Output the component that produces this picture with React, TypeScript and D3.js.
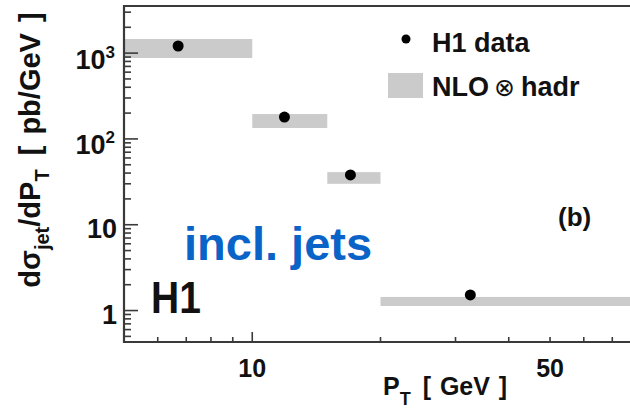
import React, { useEffect, useRef } from "react";
import * as d3 from "d3";

// jet pT bins [GeV]
const ptLow = [5, 10, 15, 20];
const ptHigh = [10, 15, 20, 80];
const ptMean = [6.7, 11.9, 17.0, 32.5];
// measured cross section [pb/GeV]
const h1Data = [1210, 180, 38, 1.52];
// NLO x hadr band
const nloLow = [877, 134, 30, 1.13];
const nloHigh = [1460, 195, 41, 1.44];

const yLabels = [
  { v: 1, base: "1", sup: "" },
  { v: 10, base: "10", sup: "" },
  { v: 100, base: "10", sup: "2" },
  { v: 1000, base: "10", sup: "3" },
];
const xLabels = [10, 50];

const W = 630;
const H = 414;
const FONT = "'Liberation Sans', Arial, Helvetica, sans-serif";

const App = () => {
  const ref = useRef(null);

  useEffect(() => {
    if (!ref.current) return;
    const svg = d3.select(ref.current);
    svg.selectAll("*").remove();

    const left = 124, top = 6, bottom = 342;
    const x = d3.scaleLog().domain([5, 80]).range([left, 637]);
    const y = d3.scaleLog().domain([0.43, 3540]).range([bottom, top]);

    const g = svg.append("g");

    // === NLO bands ===
    g.selectAll("rect.band")
      .data(ptLow.map((lo, i) => ({ lo, hi: ptHigh[i], a: nloLow[i], b: nloHigh[i] })))
      .join("rect")
      .attr("class", "band")
      .attr("x", (d) => x(d.lo))
      .attr("width", (d) => x(d.hi) - x(d.lo))
      .attr("y", (d) => y(d.b))
      .attr("height", (d) => y(d.a) - y(d.b))
      .style("fill", "#cbcbcb");

    // === H1 points ===
    g.selectAll("circle.pt")
      .data(ptMean.map((p, i) => ({ p, v: h1Data[i] })))
      .join("circle")
      .attr("class", "pt")
      .attr("cx", (d) => x(d.p))
      .attr("cy", (d) => y(d.v))
      .attr("r", 5.5)
      .style("fill", "#000");

    // === frame ===
    const frame = "#3a3a3a";
    g.append("path")
      .attr("d", `M${W + 5},${top} H${left} V${bottom} H${W + 5}`)
      .attr("fill", "none")
      .attr("stroke", frame)
      .attr("stroke-width", 2.2);

    // y ticks
    const yt = y.ticks();
    g.selectAll("line.yt")
      .data(yt)
      .join("line")
      .attr("class", "yt")
      .attr("x1", left)
      .attr("x2", (d) => left + (Math.abs(Math.log10(d) % 1) < 1e-9 ? 14 : 7))
      .attr("y1", (d) => y(d))
      .attr("y2", (d) => y(d))
      .attr("stroke", frame)
      .attr("stroke-width", 1.6);

    // x ticks
    const xt = x.ticks().filter((d) => d >= 5 && d <= 80);
    g.selectAll("line.xt")
      .data(xt)
      .join("line")
      .attr("class", "xt")
      .attr("x1", (d) => x(d))
      .attr("x2", (d) => x(d))
      .attr("y1", bottom)
      .attr("y2", (d) => bottom - (d === 10 ? 10 : 5))
      .attr("stroke", frame)
      .attr("stroke-width", 1.6);

    // y labels
    const yl = g.selectAll("text.yl")
      .data(yLabels)
      .join("text")
      .attr("class", "yl")
      .attr("x", (d) => (d.sup ? 115 : 117))
      .attr("y", (d) => y(d.v) + (d.sup ? 15.5 : 13))
      .attr("text-anchor", "end")
      .style("font-family", FONT)
      .style("font-weight", "bold")
      .style("font-size", "27px")
      .style("fill", "#111");
    yl.append("tspan").text((d) => d.base);
    yl.filter((d) => !!d.sup)
      .append("tspan")
      .attr("dy", -11)
      .style("font-size", "17px")
      .text((d) => d.sup);

    // x labels
    g.selectAll("text.xl")
      .data(xLabels)
      .join("text")
      .attr("class", "xl")
      .attr("x", (d) => x(d))
      .attr("y", 377)
      .attr("text-anchor", "middle")
      .style("font-family", FONT)
      .style("font-weight", "bold")
      .style("font-size", "25px")
      .style("fill", "#111")
      .text((d) => d);

    // x title
    const xtTitle = g.append("text")
      .attr("x", 383)
      .attr("y", 395)
      .style("font-family", FONT)
      .style("font-weight", "bold")
      .style("font-size", "25px")
      .style("word-spacing", "2px")
      .style("fill", "#111");
    xtTitle.append("tspan").text("P");
    xtTitle.append("tspan").attr("dy", 10).style("font-size", "18px").text("T");
    xtTitle.append("tspan").attr("dy", -10).attr("dx", 3).text(" [ GeV ]");

    // y title
    const ytTitle = g.append("text")
      .attr("transform", "translate(40,150) rotate(-90)")
      .attr("text-anchor", "middle")
      .style("font-family", FONT)
      .style("font-weight", "bold")
      .style("font-size", "29px")
      .style("word-spacing", "3px")
      .style("fill", "#111");
    ytTitle.append("tspan").text("dσ");
    ytTitle.append("tspan").attr("dy", 9).style("font-size", "20px").text("jet");
    ytTitle.append("tspan").attr("dy", -9).text("/dP");
    ytTitle.append("tspan").attr("dy", 9).style("font-size", "20px").text("T");
    ytTitle.append("tspan").attr("dy", -9).attr("dx", 3).text(" [ pb/GeV ]");

    // legend
    g.append("circle").attr("cx", 406).attr("cy", 39).attr("r", 4.5).style("fill", "#000");
    g.append("rect")
      .attr("x", 388).attr("y", 73).attr("width", 35).attr("height", 25)
      .style("fill", "#cbcbcb");
    g.append("text")
      .attr("x", 432).attr("y", 52)
      .style("font-family", FONT).style("font-weight", "bold").style("font-size", "27px")
      .style("fill", "#111")
      .text("H1 data");
    const nl = g.append("text")
      .attr("x", 432).attr("y", 96)
      .style("font-family", FONT).style("font-weight", "bold").style("font-size", "27px")
      .style("fill", "#111");
    nl.append("tspan").text("NLO");
    nl.append("tspan").attr("dx", 5).style("font-weight", "normal").style("font-family", "'DejaVu Sans'").style("font-size", "25px").text("⊗");
    nl.append("tspan").attr("dx", 6).text("hadr");

    // annotations
    g.append("text")
      .attr("x", 558).attr("y", 226)
      .style("font-family", FONT).style("font-weight", "bold").style("font-size", "26px")
      .style("fill", "#111")
      .text("(b)");
    g.append("text")
      .attr("x", 184).attr("y", 260)
      .style("font-family", FONT).style("font-weight", "bold").style("font-size", "47px")
      .style("fill", "#0a64c8")
      .text("incl. jets");
    g.append("text")
      .attr("x", 151).attr("y", 313)
      .attr("transform", "translate(0,313) scale(1,1.12) translate(0,-313)")
      .style("font-family", FONT).style("font-weight", "bold").style("font-size", "39px")
      .style("fill", "#111")
      .text("H1");
  }, []);

  return (
    <div style={{ position: "fixed", left: 0, top: 0, width: W, height: H, background: "#fff" }}>
      <svg ref={ref} width={W} height={H}></svg>
    </div>
  );
};

export default App;
